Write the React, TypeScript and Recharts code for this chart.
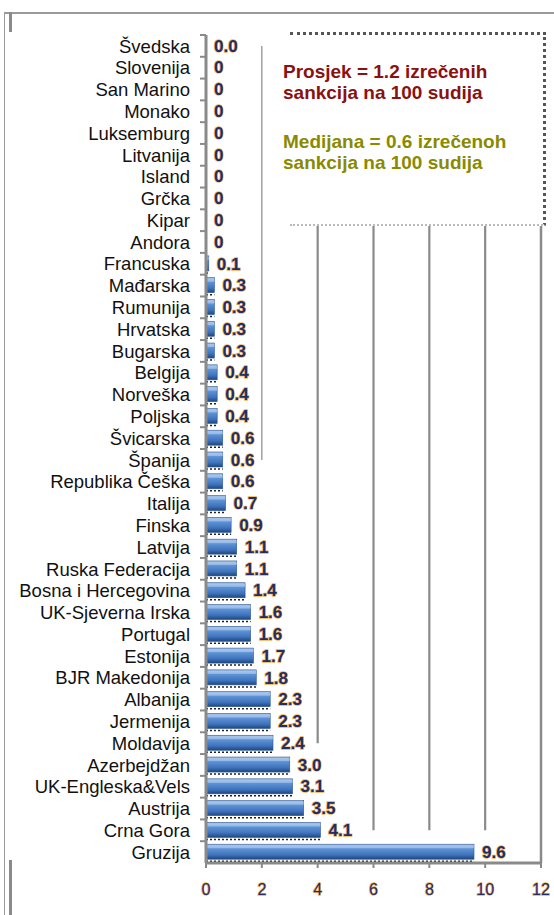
import { BarChart, Bar, XAxis, YAxis, LabelList, ReferenceLine } from 'recharts'

const countries = [
  'Švedska', 'Slovenija', 'San Marino', 'Monako', 'Luksemburg', 'Litvanija', 'Island', 'Grčka', 'Kipar', 'Andora',
  'Francuska', 'Mađarska', 'Rumunija', 'Hrvatska', 'Bugarska', 'Belgija', 'Norveška', 'Poljska', 'Švicarska', 'Španija',
  'Republika Češka', 'Italija', 'Finska', 'Latvija', 'Ruska Federacija', 'Bosna i Hercegovina', 'UK-Sjeverna Irska',
  'Portugal', 'Estonija', 'BJR Makedonija', 'Albanija', 'Jermenija', 'Moldavija', 'Azerbejdžan', 'UK-Engleska&Vels',
  'Austrija', 'Crna Gora', 'Gruzija',
]
const values = [
  0, 0, 0, 0, 0, 0, 0, 0, 0, 0,
  0.1, 0.3, 0.3, 0.3, 0.3, 0.4, 0.4, 0.4, 0.6, 0.6,
  0.6, 0.7, 0.9, 1.1, 1.1, 1.4, 1.6, 1.6, 1.7, 1.8,
  2.3, 2.3, 2.4, 3.0, 3.1, 3.5, 4.1, 9.6,
]
const labels = [
  '0.0', '0', '0', '0', '0', '0', '0', '0', '0', '0',
  '0.1', '0.3', '0.3', '0.3', '0.3', '0.4', '0.4', '0.4', '0.6', '0.6',
  '0.6', '0.7', '0.9', '1.1', '1.1', '1.4', '1.6', '1.6', '1.7', '1.8',
  '2.3', '2.3', '2.4', '3.0', '3.1', '3.5', '4.1', '9.6',
]
const xTicks = [0, 2, 4, 6, 8, 10, 12]
// where each vertical gridline stops (category reached at the bottom)
const gridStops = [
  { v: 2, from: 'Švedska', to: 'Španija' },
  { v: 4, from: 'Švedska', to: 'Moldavija' },
  { v: 6, from: 'Švedska', to: 'Crna Gora' },
  { v: 8, from: 'Švedska', to: 'Crna Gora' },
  { v: 10, from: 'Švedska', to: 'Crna Gora' },
]
const avgText = ['Prosjek = 1.2 izrečenih', 'sankcija na 100 sudija']
const medText = ['Medijana = 0.6 izrečenoh', 'sankcija na 100 sudija']

const data = countries.map((name, i) => ({ name, value: values[i], label: labels[i] }))

const W = 554
const H = 915
const TOP = 35
const BOTTOM = 52
const BAND = (H - TOP - BOTTOM) / countries.length
const FONT = '"Liberation Sans", Arial, sans-serif'
const GRID = '#8a8a8a'

function CountryTick(props: any) {
  const { x, y, payload } = props
  return (
    <g>
      <line x1={x + 10} x2={x + 16} y1={y - BAND / 2} y2={y - BAND / 2} stroke="#8a8a8a" strokeWidth={2} />
      <text x={x} y={y} dy="0.36em" textAnchor="end" fontFamily={FONT} fontSize={18.5} fill="#111">
        {payload.value}
      </text>
    </g>
  )
}

function GlowText({ x, y, children, size = 17, anchor = 'start', weight = 'bold' }: any) {
  return (
    <text x={x} y={y} dy="0.36em" textAnchor={anchor} fontFamily={FONT} fontSize={size} fontWeight={weight}
      fill="#1f2f66" stroke="#eda33a" strokeWidth={1.4} strokeOpacity={0.85} paintOrder="stroke">
      {children}
    </text>
  )
}

function XTick(props: any) {
  const { x, y, payload } = props
  return <GlowText x={x} y={y + 19} size={16} anchor="middle" weight="normal">{payload.value}</GlowText>
}

function BarShape(props: any) {
  const { x, y, width, height } = props
  if (!width || width <= 0) return <g />
  return (
    <g>
      <line x1={x} x2={x + width} y1={y + height + 2} y2={y + height + 2} stroke="#222" strokeWidth={1.5} strokeDasharray="2 2" />
      <rect x={x} y={y} width={width} height={height} fill="url(#barGrad)" stroke="#2b5590" strokeWidth={0.6} />
      <rect x={x} y={y + 1} width={width} height={3} fill="#b9d2f2" opacity={0.55} />
    </g>
  )
}

function ValueLabel(props: any) {
  const { x, y, width, height, value } = props
  return <GlowText x={x + (width || 0) + 8} y={y + height / 2}>{value}</GlowText>
}

export default function App() {
  return (
    <div style={{ position: 'absolute', left: 0, top: 0, width: W, height: H, background: '#fff', overflow: 'hidden' }}>
      {/* outer frame */}
      <div style={{ position: 'absolute', left: 5, top: 12, width: W - 5, height: 2, background: '#9a9a9a' }} />
      <div style={{ position: 'absolute', left: 4, top: 12, width: 1, height: H - 12, background: '#9a9a9a' }} />
      <div style={{ position: 'absolute', left: 9, top: 12, width: 3, height: 20, background: '#8a8a8a' }} />
      <div style={{ position: 'absolute', left: 9, top: 860, width: 3, height: 55, background: '#8a8a8a' }} />

      <BarChart width={W} height={H} data={data} layout="vertical"
        margin={{ top: TOP, right: 13, left: 0, bottom: 12 }} barSize={15}>
        <defs>
          <linearGradient id="barGrad" x1="0" y1="0" x2="0" y2="1">
            <stop offset="0%" stopColor="#a6c4ec" />
            <stop offset="30%" stopColor="#5f93d6" />
            <stop offset="70%" stopColor="#3f74bd" />
            <stop offset="100%" stopColor="#1e4680" />
          </linearGradient>
        </defs>
        {gridStops.map(g => (
          <ReferenceLine key={g.v} segment={[{ x: g.v, y: g.from }, { x: g.v, y: g.to }]}
            stroke={GRID} strokeWidth={g.v === 2 ? 1.2 : 2.2} />
        ))}
        <ReferenceLine x={12} stroke={GRID} strokeWidth={2.5} />
        <XAxis type="number" domain={[0, 12]} ticks={xTicks} height={40}
          axisLine={{ stroke: GRID, strokeWidth: 3 }} tickLine={{ stroke: GRID, strokeWidth: 2 }}
          tickSize={5} tick={<XTick />} interval={0} />
        <YAxis type="category" dataKey="name" width={206} interval={0}
          axisLine={{ stroke: GRID, strokeWidth: 3 }} tickLine={false} tickSize={6} tickMargin={10}
          tick={<CountryTick />} />
        <Bar dataKey="value" shape={<BarShape />} isAnimationActive={false}>
          <LabelList dataKey="label" content={<ValueLabel />} />
        </Bar>
      </BarChart>

      {/* annotation box */}
      <div style={{
        position: 'absolute', left: 290, top: 32, width: 253, height: 189, background: '#fff',
        borderTop: '3px dotted #555', borderRight: '3px dotted #555', borderBottom: '2px dotted #bbb',
      }} />
      <div style={{ position: 'absolute', left: 283, top: 61, fontFamily: FONT, fontWeight: 'bold', fontSize: 19, lineHeight: '21px', color: '#8b1010' }}>
        {avgText.map(t => <div key={t}>{t}</div>)}
      </div>
      <div style={{ position: 'absolute', left: 283, top: 131, fontFamily: FONT, fontWeight: 'bold', fontSize: 19, lineHeight: '21px', color: '#8a8a00' }}>
        {medText.map(t => <div key={t}>{t}</div>)}
      </div>
    </div>
  )
}
